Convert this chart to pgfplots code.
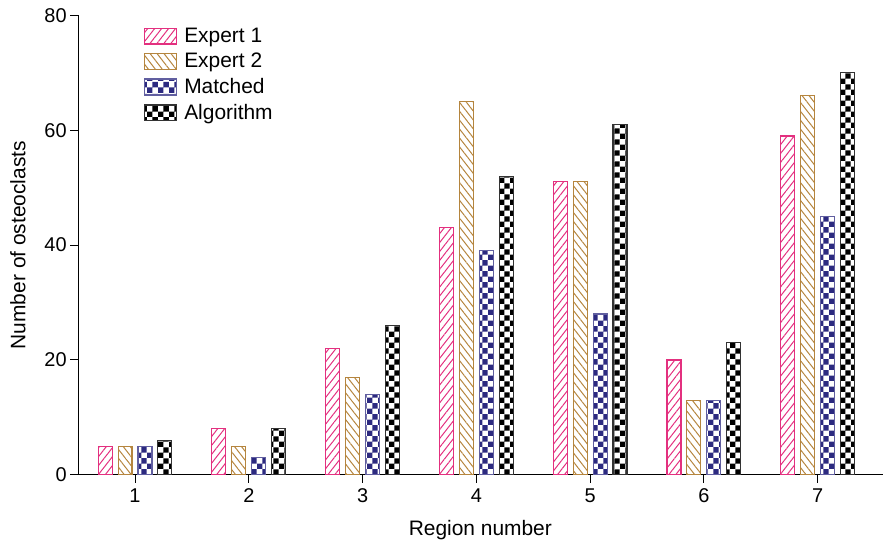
\documentclass[border=0pt]{standalone}
\usepackage{pgfplots}
\pgfplotsset{compat=1.18}
\usepackage{fontspec}
\setmainfont{Liberation Sans}
\usetikzlibrary{patterns,patterns.meta}
\definecolor{cpink}{HTML}{E3307F}
\definecolor{cbrown}{HTML}{B5853E}
\definecolor{cblue}{HTML}{2C2A80}
\begin{document}
\begin{tikzpicture}
\begin{axis}[
  scale only axis,
  width=807pt, height=461pt,
  xmin=0.5, xmax=7.57,
  ymin=0, ymax=80,
  axis x line=bottom, axis y line=left,
  axis line style={-, line width=1pt},
  xtick={1,...,7}, ytick={0,20,...,80},
  tick align=outside, major tick length=8pt,
  tick style={line width=1pt, black},
  xtick pos=bottom, ytick pos=left,
  /pgf/number format/assume math mode=true,
  ticklabel style={font=\fontsize{20}{24}\selectfont},
  xticklabel style={yshift=-2pt},
  label style={font=\fontsize{21}{25}\selectfont},
  xlabel={Region number}, ylabel={Number of osteoclasts},
  xlabel style={yshift=-11pt},
  ylabel style={yshift=12pt},
  ybar, bar width=0.1226,
  legend cell align=left,
  legend style={draw=none, fill=none, at={(rel axis cs:0.082,0.977)}, anchor=north west,
    font=\fontsize{21}{25}\selectfont, row sep=5.3pt, inner sep=0pt,
    nodes={inner xsep=7pt}},
  legend image code/.code={\draw[#1,line width=1.1pt] (0pt,-8pt) rectangle (32pt,8pt);},
]
\addplot[draw=cpink, line width=1.1pt, bar shift=-0.2627, pattern={Lines[angle=52,distance=5.5pt,line width=1pt]}, pattern color=cpink]
  coordinates {(1,5) (2,8) (3,22) (4,43) (5,51) (6,20) (7,59)};
\addplot[draw=cbrown, line width=1.1pt, bar shift=-0.0876, pattern={Lines[angle=-52,distance=5.5pt,line width=1pt]}, pattern color=cbrown]
  coordinates {(1,5) (2,5) (3,17) (4,65) (5,51) (6,13) (7,66)};
\addplot[draw=cblue!75, line width=1.1pt, bar shift=0.0876, pattern=checkerboard, pattern color=cblue]
  coordinates {(1,5) (2,3) (3,14) (4,39) (5,28) (6,13) (7,45)};
\addplot[draw=black!80, line width=1.1pt, bar shift=0.2627, pattern=checkerboard, pattern color=black]
  coordinates {(1,6) (2,8) (3,26) (4,52) (5,61) (6,23) (7,70)};
\legend{Expert 1, Expert 2, Matched, Algorithm}
\end{axis}
\path ([xshift=-7pt]current bounding box.west) ([yshift=-4pt]current bounding box.south) ([yshift=5pt]current bounding box.north);
\end{tikzpicture}
\end{document}
